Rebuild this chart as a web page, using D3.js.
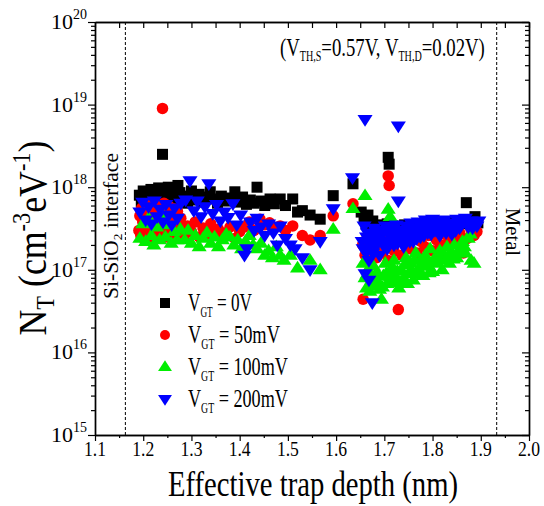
<!DOCTYPE html>
<html>
<head>
<meta charset="utf-8">
<script src="https://cdn.jsdelivr.net/npm/d3@7"></script>
<style>
  body { margin: 0; background: #fff; }
  text { font-family: "Liberation Serif", "Times New Roman", serif; fill: #000; }
</style>
</head>
<body>
<svg id="chart"></svg>
<script>
// trap density vs effective trap depth, one list of [depth nm, NT] per gate overdrive
var vgt0 = [
  [1.192,8.0e17],[1.196,6.6e17],[1.200,9.0e17],[1.204,7.4e17],[1.208,8.6e17],[1.212,6.8e17],[1.216,9.4e17],
  [1.220,7.8e17],[1.224,8.8e17],[1.228,7.0e17],[1.232,9.8e17],[1.236,8.2e17],[1.240,2.5e18],[1.244,9.0e17],
  [1.248,7.6e17],[1.252,1.0e18],[1.256,8.4e17],[1.260,7.2e17],[1.264,9.6e17],[1.268,8.0e17],[1.272,1.05e18],
  [1.276,8.6e17],[1.280,7.4e17],
  [1.285,7.8e17],[1.292,6.4e17],[1.300,9.0e17],[1.308,7.0e17],[1.316,8.2e17],[1.324,6.6e17],[1.332,7.6e17],
  [1.339,8.8e17],[1.346,7.2e17],[1.354,6.4e17],[1.362,7.8e17],[1.370,6.8e17],[1.378,7.4e17],[1.390,8.8e17],
  [1.398,6.6e17],[1.406,7.6e17],[1.414,6.2e17],[1.422,7.0e17],[1.430,6.4e17],[1.436,1.0e18],[1.444,6.8e17],
  [1.452,6.0e17],[1.463,7.2e17],[1.472,6.3e17],[1.484,7.2e17],[1.495,6.0e17],[1.510,7.2e17],[1.520,5.0e17],
  [1.530,5.2e17],[1.546,4.6e17],[1.567,4.1e17],[1.594,7.9e17],[1.635,1.1e18],[1.708,2.3e18],[1.710,1.9e18],
  [1.652,5.0e17],[1.658,4.2e17],[1.662,3.6e17],[1.666,4.6e17],[1.670,3.3e17],[1.676,3.9e17],[1.682,3.1e17],
  [1.688,3.5e17],[1.694,2.9e17],[1.700,3.3e17],[1.706,3.6e17],[1.712,3.0e17],[1.718,3.4e17],[1.726,2.8e17],
  [1.734,3.2e17],[1.742,3.5e17],[1.750,3.0e17],[1.758,3.3e17],[1.766,2.9e17],[1.774,3.4e17],[1.782,3.1e17],
  [1.790,3.6e17],[1.798,3.2e17],[1.806,3.5e17],[1.814,3.3e17],[1.822,3.7e17],[1.830,3.4e17],[1.838,3.8e17],
  [1.846,3.5e17],[1.854,3.9e17],[1.862,3.6e17],[1.870,6.5e17],[1.876,3.8e17],[1.882,4.0e17],[1.888,4.4e17],
  [1.894,3.7e17]
];
var vgt50 = [
  [1.191,3.0e17],[1.193,4.5e17],[1.195,2.6e17],[1.197,5.6e17],[1.199,3.8e17],[1.201,2.4e17],[1.203,5.2e17],
  [1.205,3.2e17],[1.207,6.2e17],[1.209,4.4e17],[1.211,2.8e17],[1.213,3.6e17],[1.215,5.6e17],[1.217,2.5e17],
  [1.219,4.8e17],[1.221,3.4e17],[1.223,6.0e17],[1.225,3.0e17],[1.227,4.1e17],[1.229,2.6e17],[1.231,5.8e17],
  [1.233,3.4e17],[1.235,4.6e17],[1.237,2.7e17],[1.240,9.0e18],[1.241,3.9e17],[1.243,6.4e17],[1.245,5.0e17],
  [1.247,3.1e17],[1.249,2.5e17],[1.251,4.3e17],[1.253,5.9e17],[1.255,3.5e17],[1.257,4.9e17],[1.259,2.8e17],
  [1.261,3.8e17],[1.263,5.5e17],[1.265,3.2e17],[1.267,4.4e17],[1.269,2.6e17],[1.271,5.1e17],[1.273,3.6e17],
  [1.275,2.9e17],[1.278,4.2e17],
  [1.285,2.6e17],[1.292,3.4e17],[1.300,2.9e17],[1.308,3.8e17],[1.316,2.5e17],[1.324,3.2e17],[1.332,2.7e17],
  [1.340,3.6e17],[1.348,2.9e17],[1.356,3.1e17],[1.364,2.6e17],[1.372,2.8e17],[1.380,3.3e17],[1.390,2.4e17],
  [1.400,2.9e17],[1.410,3.3e17],[1.420,3.8e17],[1.430,3.0e17],[1.442,4.1e17],[1.452,3.5e17],[1.462,3.7e17],
  [1.472,3.2e17],[1.484,3.4e17],[1.495,3.0e17],[1.510,3.4e17],[1.530,2.6e17],[1.546,2.3e17],[1.567,2.6e17],
  [1.594,4.5e17],[1.635,6.3e17],[1.708,1.37e18],[1.710,1.05e18],
  [1.655,2.0e17],[1.660,1.5e17],[1.664,2.4e17],[1.668,1.2e17],[1.672,1.8e17],[1.678,2.2e17],[1.684,1.4e17],
  [1.690,1.9e17],[1.696,1.6e17],[1.702,2.3e17],[1.708,1.3e17],[1.714,2.0e17],[1.720,1.7e17],[1.728,2.4e17],
  [1.736,1.5e17],[1.744,2.1e17],[1.752,1.8e17],[1.760,2.5e17],[1.768,1.6e17],[1.776,2.2e17],[1.784,1.9e17],
  [1.792,2.6e17],[1.800,1.7e17],[1.808,2.3e17],[1.816,2.0e17],[1.824,2.7e17],[1.832,2.1e17],[1.840,2.5e17],
  [1.848,2.2e17],[1.856,2.8e17],[1.864,1.6e17],[1.872,2.4e17],[1.880,3.0e17],[1.886,2.6e17],[1.892,2.9e17],
  [1.656,4.4e16],[1.729,3.3e16]
];
var vgt100 = [
  [1.193,2.4e17],[1.199,3.6e17],[1.205,2.2e17],[1.211,4.2e17],[1.217,2.6e17],[1.222,2.0e17],[1.228,3.3e17],
  [1.234,2.3e17],[1.240,4.6e17],[1.246,2.5e17],[1.252,3.5e17],[1.258,2.1e17],[1.264,2.9e17],[1.270,2.3e17],
  [1.277,3.1e17],
  [1.286,2.3e17],[1.293,3.0e17],[1.300,2.1e17],[1.308,2.6e17],[1.316,1.9e17],[1.324,2.4e17],[1.332,2.8e17],
  [1.340,2.1e17],[1.348,2.5e17],[1.356,1.9e17],[1.364,2.3e17],[1.372,2.7e17],[1.380,2.5e17],[1.388,2.0e17],
  [1.396,2.3e17],[1.404,1.8e17],[1.412,2.2e17],[1.420,2.6e17],[1.428,2.0e17],[1.436,1.8e17],[1.444,2.1e17],
  [1.452,1.5e17],[1.460,1.7e17],[1.468,1.4e17],[1.476,1.9e17],[1.484,1.5e17],[1.492,1.3e17],[1.505,1.5e17],
  [1.520,1.05e17],[1.546,1.3e17],[1.567,1.0e17],[1.594,3.1e17],[1.635,5.5e17],[1.660,7.9e17],[1.708,5.4e17],
  [1.712,4.4e17],
  [1.656,1.2e17],[1.660,8.0e16],[1.663,6.0e16],[1.666,1.0e17],[1.670,5.5e16],[1.674,7.5e16],[1.678,1.1e17],
  [1.682,6.5e16],[1.686,9.0e16],[1.690,5.8e16],[1.694,4.4e16],[1.698,8.5e16],[1.702,1.2e17],[1.706,6.8e16],
  [1.710,9.5e16],[1.715,7.2e16],[1.720,1.3e17],[1.725,8.0e16],[1.730,6.0e16],[1.735,1.0e17],[1.740,7.8e16],
  [1.745,1.4e17],[1.750,9.0e16],[1.755,1.2e17],[1.760,7.5e16],[1.765,1.6e17],[1.770,1.0e17],[1.775,1.3e17],
  [1.780,8.5e16],[1.785,1.5e17],[1.790,1.1e17],[1.795,1.8e17],[1.800,9.5e16],[1.805,1.4e17],[1.810,1.2e17],
  [1.815,1.7e17],[1.820,1.0e17],[1.825,1.5e17],[1.830,1.9e17],[1.835,1.2e17],[1.840,1.6e17],[1.845,2.0e17],
  [1.850,1.4e17],[1.856,1.8e17],[1.862,2.2e17],[1.868,1.6e17],[1.874,2.4e17],[1.880,1.3e17],[1.886,1.2e17],
  [1.664,8.8e16],[1.672,6.4e16],[1.680,8.4e16],[1.688,7.0e16],[1.696,6.2e16],[1.704,9.0e16],[1.712,8.2e16],
  [1.718,1.05e17],[1.727,9.6e16],[1.733,7.0e16],[1.742,1.15e17],[1.748,6.8e16],[1.757,9.8e16],[1.763,1.3e17],
  [1.772,8.8e16],[1.778,1.15e17],[1.787,1.3e17],[1.793,9.2e16],[1.802,1.25e17],[1.812,1.5e17],[1.822,1.3e17],
  [1.832,1.45e17],[1.843,1.35e17],[1.853,1.6e17],[1.866,1.9e17],[1.878,2.7e17]
];
var vgt200 = [
  [1.193,5.0e17],[1.199,6.6e17],[1.205,4.0e17],[1.211,5.8e17],[1.217,3.6e17],[1.223,6.8e17],[1.229,4.4e17],
  [1.235,5.4e17],[1.241,3.8e17],[1.247,6.2e17],[1.253,4.6e17],[1.259,3.5e17],[1.265,5.6e17],[1.271,4.2e17],
  [1.278,6.4e17],
  [1.288,7.0e17],[1.297,1.2e18],[1.305,5.2e17],[1.312,6.8e17],[1.320,4.4e17],[1.328,5.8e17],[1.336,1.1e18],
  [1.344,4.8e17],[1.352,6.2e17],[1.360,3.9e17],[1.368,5.0e17],[1.376,4.3e17],[1.386,6.3e17],[1.394,3.5e17],
  [1.402,4.6e17],[1.410,1.5e17],[1.415,1.8e17],[1.422,3.8e17],[1.430,3.0e17],[1.436,4.2e17],[1.444,3.3e17],
  [1.452,2.6e17],[1.460,3.6e17],[1.470,2.8e17],[1.478,2.0e17],[1.484,3.4e17],[1.495,2.4e17],[1.505,2.0e17],
  [1.515,1.8e17],[1.530,1.4e17],[1.546,1.0e17],[1.567,2.2e17],[1.594,5.5e17],[1.634,1.3e18],[1.660,6.6e18],
  [1.729,5.5e18],[1.729,6.8e17],
  [1.654,2.2e17],[1.658,3.4e17],[1.660,9.0e16],[1.662,1.6e17],[1.665,2.8e17],[1.668,1.3e17],[1.668,7.5e16],
  [1.672,2.4e17],[1.675,4.0e16],[1.678,3.2e17],[1.682,1.9e17],[1.686,2.7e17],[1.690,1.5e17],[1.694,3.0e17],
  [1.698,2.2e17],[1.702,3.4e17],[1.706,1.8e17],[1.710,2.6e17],[1.715,3.2e17],[1.720,2.0e17],[1.725,3.5e17],
  [1.730,2.4e17],[1.735,3.0e17],[1.740,1.9e17],[1.745,3.4e17],[1.750,2.6e17],[1.755,3.7e17],[1.760,2.2e17],
  [1.765,3.2e17],[1.770,3.8e17],[1.775,2.5e17],[1.780,3.5e17],[1.785,4.0e17],[1.790,2.8e17],[1.795,3.6e17],
  [1.800,4.1e17],[1.805,3.0e17],[1.810,3.8e17],[1.815,2.6e17],[1.820,3.4e17],[1.825,4.0e17],[1.830,3.1e17],
  [1.835,3.7e17],[1.840,2.7e17],[1.845,3.5e17],[1.850,4.1e17],[1.856,3.2e17],[1.862,3.8e17],[1.868,4.2e17],
  [1.874,3.3e17],[1.880,3.9e17],[1.886,3.6e17],[1.892,3.4e17],
  [1.656,1.8e17],[1.663,2.5e17],[1.670,2.0e17],[1.676,1.6e17],[1.684,2.3e17],[1.692,2.5e17],[1.700,1.9e17],
  [1.708,2.9e17],[1.713,2.2e17],[1.718,2.8e17],[1.727,2.1e17],[1.733,2.7e17],[1.742,2.3e17],[1.748,3.0e17],
  [1.753,2.2e17],[1.758,2.9e17],[1.767,2.4e17],[1.773,3.1e17],[1.782,2.6e17],[1.788,3.3e17],[1.797,2.7e17],
  [1.803,3.4e17],[1.812,2.9e17],[1.818,3.6e17],[1.828,2.8e17],[1.838,3.2e17],[1.848,3.0e17],[1.859,3.5e17],
  [1.871,3.7e17],[1.883,3.2e17],[1.896,3.9e17]
];

var seriesLabels = ["0V", "50mV", "100mV", "200mV"];
var depthTicks = [1.1, 1.2, 1.3, 1.4, 1.5, 1.6, 1.7, 1.8, 1.9, 2.0];
var decadeExps = [15, 16, 17, 18, 19, 20];
var boundaries = [1.163, 1.933];   // Si-SiO2 interface, metal

var W = 544, H = 506;
var svg = d3.select('#chart').attr('width', W).attr('height', H);

var x = d3.scaleLinear().domain([1.1, 2.0]).range([95, 529]);
var y = d3.scaleLog().domain([1e15, 1e20]).range([435, 22]);

var colors = ["#000000", "#ff0000", "#00ee00", "#0000ff"];
var shapes = ["square", "circle", "up", "down"];

function drawMarker(g, shape, color, s) {
  if (shape == "square") {
    g.append('rect').attr('x', -s/2).attr('y', -s/2).attr('width', s).attr('height', s).attr('fill', color);
  } else if (shape == "circle") {
    g.append('circle').attr('r', s/2).attr('fill', color);
  } else {
    var h = s * 0.9;
    var p = shape == "up"
      ? [[0, -h*0.62], [s*0.58, h*0.38], [-s*0.58, h*0.38]]
      : [[0, h*0.62], [s*0.58, -h*0.38], [-s*0.58, -h*0.38]];
    g.append('path').attr('d', 'M' + p.join('L') + 'Z').attr('fill', color);
  }
}

// squeeze a text (in its own frame) to a wanted length, like the narrow Times of the original
function squeeze(t, pre, len) {
  var s = len / t.node().getComputedTextLength();
  t.attr('transform', pre + ' scale(' + s + ',1)');
}

// dashed boundaries
svg.selectAll('line.bound')
  .data(boundaries)
  .enter()
  .append('line')
  .attr('class', 'bound')
  .attr('x1', function(d){ return x(d); })
  .attr('x2', function(d){ return x(d); })
  .attr('y1', y(1e20)).attr('y2', y(1e15))
  .attr('stroke', '#000').attr('stroke-width', 1).attr('stroke-dasharray', '3,2');

// points
var allSeries = [vgt0, vgt50, vgt100, vgt200];
var sizes = [11, 11.5, 13, 13];
allSeries.forEach(function(data, k){
  var g = svg.append('g').attr('class', 'series' + k);
  g.selectAll('g')
    .data(data)
    .enter()
    .append('g')
    .attr('transform', function(d){ return 'translate(' + x(d[0]) + ',' + y(d[1]) + ')'; })
    .each(function(){ drawMarker(d3.select(this), shapes[k], colors[k], sizes[k]); });
});

// axes
var minorX = d3.range(1.15, 2.0, 0.1);
var majorY = decadeExps.map(function(e){ return Math.pow(10, e); });
var minorY = [];
decadeExps.slice(0, -1).forEach(function(e){
  for (var m = 2; m < 10; m++) minorY.push(m * Math.pow(10, e));
});

function styleAxis(sel) {
  sel.selectAll('path').attr('stroke', '#000').attr('stroke-width', 1.4);
  sel.selectAll('line').attr('stroke', '#000').attr('stroke-width', 1.2);
  sel.selectAll('text').remove();
}

var ax = svg.append('g').attr('class', 'axes');
ax.append('g').attr('transform', 'translate(0,' + y(1e15) + ')')
  .call(d3.axisBottom(x).tickValues(depthTicks).tickSize(6).tickSizeOuter(0)).call(styleAxis);
ax.append('g').attr('transform', 'translate(0,' + y(1e15) + ')')
  .call(d3.axisBottom(x).tickValues(minorX).tickSize(3).tickSizeOuter(0)).call(styleAxis);
ax.append('g').attr('transform', 'translate(0,' + y(1e20) + ')')
  .call(d3.axisTop(x).tickValues(depthTicks).tickSize(-6).tickSizeOuter(0)).call(styleAxis);
ax.append('g').attr('transform', 'translate(0,' + y(1e20) + ')')
  .call(d3.axisTop(x).tickValues(minorX).tickSize(-6).tickSizeOuter(0)).call(styleAxis);
ax.append('g').attr('transform', 'translate(' + x(1.1) + ',0)')
  .call(d3.axisLeft(y).tickValues(majorY).tickSize(7).tickSizeOuter(0)).call(styleAxis);
ax.append('g').attr('transform', 'translate(' + x(1.1) + ',0)')
  .call(d3.axisLeft(y).tickValues(minorY).tickSize(4).tickSizeOuter(0)).call(styleAxis);
ax.append('g').attr('transform', 'translate(' + x(2.0) + ',0)')
  .call(d3.axisRight(y).tickValues(majorY).tickSize(-7).tickSizeOuter(0)).call(styleAxis);
ax.append('g').attr('transform', 'translate(' + x(2.0) + ',0)')
  .call(d3.axisRight(y).tickValues(minorY).tickSize(-4).tickSizeOuter(0)).call(styleAxis);

// tick labels
svg.append('g').selectAll('text')
  .data(depthTicks)
  .enter()
  .append('text')
  .attr('x', function(d){ return x(d); })
  .attr('y', y(1e15) + 21)
  .attr('text-anchor', 'middle')
  .attr('font-size', 21)
  .attr('textLength', 22).attr('lengthAdjust', 'spacingAndGlyphs')
  .text(function(d){ return d.toFixed(1); });

var yl = svg.append('g').selectAll('text')
  .data(decadeExps)
  .enter()
  .append('text')
  .attr('x', x(1.1) - 8)
  .attr('y', function(d){ return y(Math.pow(10, d)) + 7; })
  .attr('text-anchor', 'end')
  .attr('font-size', 22);
yl.append('tspan').text('10');
yl.append('tspan').attr('font-size', 14).attr('dy', -10).text(function(d){ return d; });

// titles
var xt = svg.append('text')
  .attr('text-anchor', 'middle')
  .attr('font-size', 35)
  .text('Effective trap depth (nm)');
squeeze(xt, 'translate(313,496)', 290);

var yt = svg.append('text')
  .attr('text-anchor', 'middle')
  .attr('font-size', 40);
yt.append('tspan').text('N');
yt.append('tspan').attr('font-size', 25).attr('dy', 8).text('T');
yt.append('tspan').attr('dy', -8).text(' (cm');
yt.append('tspan').attr('font-size', 25).attr('dy', -16).text('-3');
yt.append('tspan').attr('dy', 16).text('eV');
yt.append('tspan').attr('font-size', 25).attr('dy', -16).text('-1');
yt.append('tspan').attr('dy', 16).text(')');
squeeze(yt, 'translate(46,238) rotate(-90)', 195);

var note = svg.append('text').attr('font-size', 26);
note.append('tspan').text('(V');
note.append('tspan').attr('font-size', 14).attr('dy', 5).text('TH,S');
note.append('tspan').attr('dy', -5).text('=0.57V, V');
note.append('tspan').attr('font-size', 14).attr('dy', 5).text('TH,D');
note.append('tspan').attr('dy', -5).text('=0.02V)');
squeeze(note, 'translate(280,56)', 205);

var si = svg.append('text')
  .attr('text-anchor', 'middle')
  .attr('font-size', 21);
si.append('tspan').text('Si-SiO');
si.append('tspan').attr('font-size', 13).attr('dy', 4).text('2');
si.append('tspan').attr('dy', -4).text(' interface');
squeeze(si, 'translate(118,226) rotate(-90)', 146);

var metal = svg.append('text')
  .attr('text-anchor', 'middle')
  .attr('font-size', 21)
  .text('Metal');
squeeze(metal, 'translate(506,232) rotate(90)', 48);

// legend
var legendY = [303, 335, 367, 399];
var legendLen = [64, 92, 100, 100];
var lg = svg.append('g').attr('class', 'legend');
seriesLabels.forEach(function(lab, k){
  var row = lg.append('g').attr('transform', 'translate(165,' + legendY[k] + ')');
  drawMarker(row, shapes[k], colors[k], k < 2 ? 10 : 12);
  var t = row.append('text').attr('font-size', 26);
  t.append('tspan').text('V');
  t.append('tspan').attr('font-size', 14).attr('dy', 6).text('GT');
  t.append('tspan').attr('dy', -6).text(' = ' + lab);
  squeeze(t, 'translate(23,8)', legendLen[k]);
});
</script>
</body>
</html>
